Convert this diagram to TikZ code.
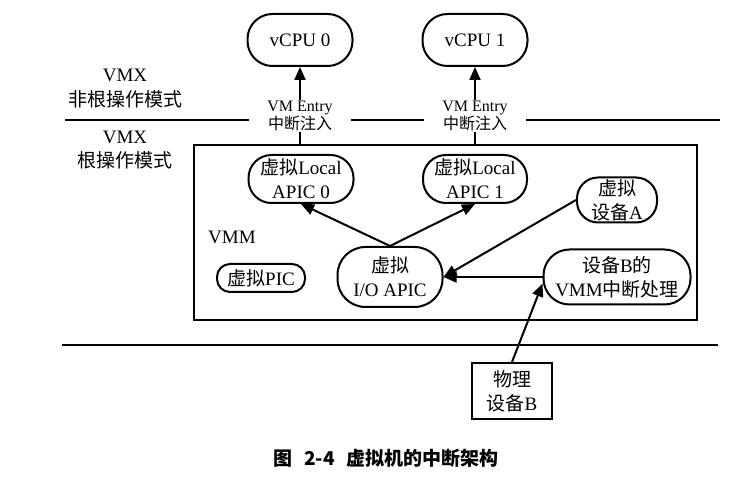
\documentclass[tikz,border=0pt]{standalone}
\usepackage{fontspec}
\setmainfont{Liberation Serif}
\newfontfamily\cjk{Noto Sans CJK SC}
\usetikzlibrary{arrows.meta}
\begin{document}
\begin{tikzpicture}[x=1pt,y=-1pt,
  pill/.style={draw, rectangle, rounded corners=#1, line width=2pt, align=center, inner sep=0pt, font=\fontsize{19}{24}\selectfont},
  pill/.default=23pt,
  arr/.style={line width=2pt, -{Triangle[length=13pt,width=11pt]}},
  lbl/.style={align=center, inner sep=0pt, font=\fontsize{19}{24}\selectfont},
  entry/.style={fill=white, align=center, inner xsep=18pt, inner ysep=1pt, font=\fontsize{16}{14}\selectfont},
  sep/.style={line width=2pt},
]
\useasboundingbox (0,0) rectangle (753,478);
% nodes
\node[pill=25pt, minimum width=105pt, minimum height=52pt] (vcpu0) at (300,40) {vCPU 0};
\node[pill=25pt, minimum width=105pt, minimum height=52pt] (vcpu1) at (475,40) {vCPU 1};
\node[draw, line width=1.6pt, minimum width=503pt, minimum height=175pt, inner sep=0pt] (vmm) at (445.5,232.5) {};
\node[pill, minimum width=105pt, minimum height=48pt] (apic0) at (301,179) {{\cjk 虚拟}Local\\APIC 0};
\node[pill, minimum width=104pt, minimum height=48pt] (apic1) at (475,179) {{\cjk 虚拟}Local\\APIC 1};
\node[pill=21pt, minimum width=80pt, minimum height=45pt] (devA) at (617,200) {{\cjk 虚拟}\\{\cjk 设备}A};
\node[pill=13pt, minimum width=88pt, minimum height=28pt] (pic) at (261,278) {{\cjk 虚拟}PIC};
\node[pill=28pt, minimum width=105pt, minimum height=60pt] (iob) at (390,277) {{\cjk 虚拟}\\I/O APIC};
\node[pill=26pt, minimum width=147pt, minimum height=55pt] (devB) at (617,277) {{\cjk 设备}B{\cjk 的}\\VMM{\cjk 中断处理}};
\node[draw, line width=2pt, minimum width=80pt, minimum height=56pt, lbl] (phys) at (512,391) {{\cjk 物理}\\{\cjk 设备}B};
\node[lbl] (vmmlbl) at (232,237) {VMM};
\node[lbl, font=\fontsize{19}{25}\selectfont] (nonroot) at (125,89) {VMX\\{\cjk 非根操作模式}};
\node[lbl] (root) at (125,150) {VMX\\{\cjk 根操作模式}};
% separators
\draw[sep] (65,120) -- (720,120);
\draw[sep] (62,345) -- (718,345);
% arrows
\draw[arr] (vcpu0 |- vmm.north) -- (vcpu0.south);
\draw[arr] (vcpu1 |- vmm.north) -- (vcpu1.south);
\draw[arr] (iob.north) -- (apic0.south);
\draw[arr] (iob.north) -- (apic1.south);
\draw[arr] (devA.west) -- (iob.east);
\draw[arr] (devB.west) -- (iob.east);
\draw[arr] (phys.north) -- (devB.185);
% entry labels
\node[entry] (e0) at (300,116) {VM Entry\\{\cjk 中断注入}};
\node[entry] (e1) at (475,116) {VM Entry\\{\cjk 中断注入}};
% caption
\node[font=\cjk\bfseries\fontsize{19}{19}\selectfont] (cap) at (386,458) {图\hspace{0.6em}2-4\hspace{0.6em}虚拟机的中断架构};
\end{tikzpicture}
\end{document}
